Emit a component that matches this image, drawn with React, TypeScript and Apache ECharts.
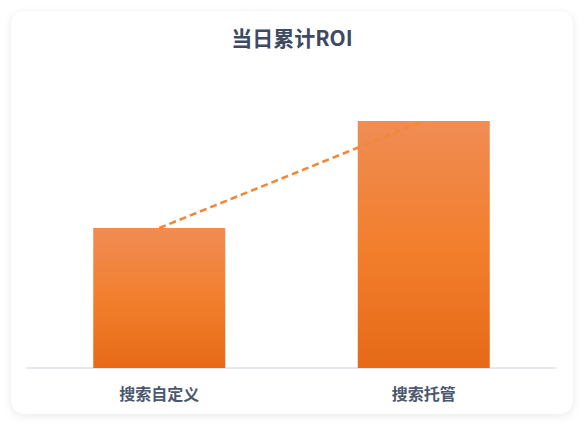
import * as echarts from "echarts";
import React, { useEffect, useRef } from "react";

// 数据
const categories = ["搜索自定义", "搜索托管"];
const roiValues = [1.7, 3.0];
const yMax = 3.0;

export default function App() {
  const chartRef = useRef<HTMLDivElement>(null);

  useEffect(() => {
    if (!chartRef.current) return;

    const myChart = echarts.init(chartRef.current, null, { renderer: "svg" });
    const option = {
      animation: false,
      title: {
        text: "当日累计ROI",
        left: "center",
        top: 21,
        textStyle: {
          fontSize: 21,
          fontWeight: "bold",
          color: "#3d4a62",
          fontFamily: "Noto Sans CJK SC",
        },
      },
      grid: { left: 27, right: 28, top: 121, bottom: 58 },
      xAxis: {
        type: "category",
        data: categories,
        axisTick: { show: false },
        axisLine: { lineStyle: { color: "#dde2ea", width: 1.5 } },
        axisLabel: {
          margin: 17,
          fontSize: 16,
          fontWeight: "bold",
          color: "#4b586f",
          fontFamily: "Noto Sans CJK SC",
        },
      },
      yAxis: {
        type: "value",
        min: 0,
        max: yMax,
        show: false,
        splitLine: { show: false },
      },
      series: [
        {
          name: "ROI",
          type: "bar",
          barWidth: 132,
          data: roiValues,
          itemStyle: {
            color: new echarts.graphic.LinearGradient(0, 0, 0, 1, [
              { offset: 0, color: "#f08c54" },
              { offset: 0.5, color: "#f27f2d" },
              { offset: 1, color: "#e66a17" },
            ]),
          },
          z: 2,
        },
        {
          name: "趋势",
          type: "line",
          data: roiValues,
          symbol: "none",
          lineStyle: { color: "#ef8838", width: 2.5, type: [7, 4] },
          z: 3,
        },
      ],
    };
    myChart.setOption(option);

    return () => {
      myChart.dispose();
    };
  }, []);

  return (
    <div style={{ position: "fixed", left: 0, top: 0, width: 584, height: 426, background: "#fff" }}>
      <div
        style={{
          position: "absolute",
          left: 11,
          top: 11,
          width: 562,
          height: 403,
          borderRadius: 14,
          background: "#fff",
          boxShadow: "0 2px 10px rgba(0,0,0,0.09)",
        }}
      ></div>
      <div ref={chartRef} style={{ position: "absolute", left: 0, top: 0, width: 584, height: 426 }}></div>
    </div>
  );
}
